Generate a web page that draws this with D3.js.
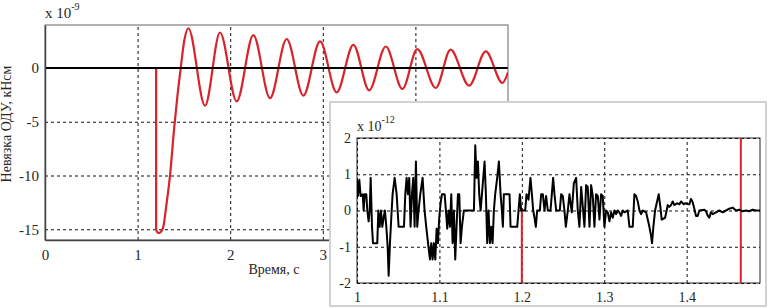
<!DOCTYPE html>
<html>
<head>
<meta charset="utf-8">
<script src="https://cdn.jsdelivr.net/npm/d3@7.9.0/dist/d3.min.js"></script>
<style>
  body { margin: 0; background: #fff; }
  svg { display: block; }
  text { font-family: "Liberation Serif", "DejaVu Serif", serif; }
  .lbl { fill: #262626; }
</style>
</head>
<body>
<svg id="chart" width="777" height="308"></svg>
<script>
// red residual, x10^-9 (time in s)
const redT = [1.2, 1.2, 1.215, 1.235, 1.255, 1.277, 1.31, 1.35, 1.396, 1.43, 1.4657, 1.505, 1.548,
  1.728, 1.89, 2.07, 2.25, 2.43, 2.61, 2.79, 2.97, 3.15, 3.33, 3.50, 3.68, 3.86, 4.02, 4.22, 4.38, 4.58, 4.76, 4.94, 5.0];
const redV = [0, -15.05, -15.3, -15.35, -15.2, -14.8, -12.8, -10, -5.5, -2.6, 0, 2.6, 3.7,
  -3.5, 3.3, -3.1, 3.05, -2.8, 2.7, -2.57, 2.47, -2.26, 2.16, -2.08, 2.0, -1.95, 1.76, -1.86, 1.7, -1.64, 1.54, -1.39, -0.4];

// black residual, x10^-12
const blackT = [0, 1.0, 1.0012, 1.0028, 1.0044, 1.0069, 1.0081, 1.0093, 1.0113, 1.0125, 1.0141, 1.0154, 1.0166, 1.0182, 1.0194, 1.0246,
  1.0259, 1.0275, 1.0291, 1.0307, 1.0323, 1.0339, 1.0356, 1.0372, 1.0384, 1.04, 1.0416, 1.0432, 1.0457, 1.0481, 1.0505, 1.057,
  1.0586, 1.0602, 1.0618, 1.0634, 1.065, 1.0667, 1.0683, 1.0699, 1.0715, 1.0731, 1.0747, 1.0768, 1.0796, 1.082,
  1.084, 1.0862, 1.0885, 1.0901, 1.0917, 1.0933, 1.095, 1.0966, 1.0982, 1.0998, 1.1014, 1.1031, 1.1063, 1.1079, 1.1095,
  1.1111, 1.1128, 1.1144, 1.116, 1.1176, 1.1192, 1.1208, 1.1225, 1.1241, 1.1257, 1.1273, 1.1297, 1.1419, 1.1435, 1.1451,
  1.1467, 1.1483, 1.15, 1.1516, 1.1532, 1.1548, 1.1564, 1.158, 1.1596, 1.1613, 1.1629, 1.1645, 1.1661, 1.1677, 1.1701,
  1.1722, 1.1742, 1.1758, 1.177, 1.1782, 1.1851, 1.1863, 1.1944, 1.196, 1.1976, 1.1992, 1.2041, 1.2057, 1.2081, 1.2105,
  1.2122, 1.2138, 1.2154, 1.217, 1.2186, 1.2219, 1.2235, 1.2255, 1.2275, 1.2295, 1.2315, 1.2348, 1.2364, 1.238, 1.2396,
  1.2417, 1.2461, 1.2477, 1.2497, 1.2517, 1.2534, 1.2558, 1.2578, 1.2606, 1.2631, 1.2659, 1.2679, 1.2699, 1.272, 1.274,
  1.276, 1.278, 1.28, 1.2821, 1.2841, 1.2861, 1.2881, 1.2901, 1.2922, 1.2942, 1.2962, 1.2982, 1.3002, 1.3023, 1.3043,
  1.3063, 1.3083, 1.3103, 1.3124, 1.3144, 1.3164, 1.3184, 1.3204, 1.3225, 1.3245, 1.3285, 1.3306, 1.3346, 1.3366, 1.3386,
  1.3407, 1.3427, 1.3447, 1.3467, 1.3508, 1.3528, 1.3548, 1.3568, 1.358, 1.3596, 1.3617, 1.3641, 1.3661, 1.3681, 1.3697,
  1.3738, 1.3758, 1.377, 1.379, 1.381, 1.3831, 1.3851, 1.3883, 1.3912, 1.3932, 1.3964, 1.398, 1.4013, 1.4033, 1.4053,
  1.4073, 1.4093, 1.4114, 1.4134, 1.4154, 1.4215, 1.4235, 1.4255, 1.4275, 1.4295, 1.4316, 1.4356, 1.4396, 1.4437, 1.4477,
  1.4518, 1.4558, 1.4598, 1.4639, 1.4679, 1.4719, 1.476, 1.48, 1.4841, 1.489, 5.0];
const blackV = [0, 0.85, 0.4, 0.85, 0.4, 0.45, 0.0, 0.45, 0.45, 0.0, -0.3, 0.0, 0.9, -0.45, -0.9, -0.9,
  0.0, -0.45, 0.0, -0.45, -0.2, 0.0, -0.45, -1.0, -1.8, -0.9, -0.2, 0.45, 0.9, 0.45, -0.45, -0.45,
  0.45, 0.9, 0.45, 0.9, -0.45, 0.45, 0.9, -0.45, 1.35, -0.45, 0.0, 0.45, 0.9, 0.0,
  -0.45, -0.9, -1.35, -0.9, -1.35, -0.9, -1.35, -0.5, -0.9, -0.2, 0.2, 0.45, 0.45, 0.0, -0.5,
  0.0, -0.45, 0.45, -0.9, 0.0, -1.35, -0.45, 0.45, 0.45, -0.9, -0.45, 0.0, 0.0, 1.8, 0.9,
  1.35, 0.45, 0.0, 0.45, 0.9, 1.35, 0.45, -0.9, 0.0, -0.9, -0.45, -0.9, 0.0, 0.45, 0.9,
  1.35, 0.45, 0.0, -0.45, 0.45, 0.45, -0.45, -0.45, 0.0, 0.45, 0.0, 0.0, 0.45, 0.3, 0.9,
  0.45, 0.0, -0.2, -0.45, 0.0, 0.0, 0.45, 0.45, 0.0, 0.4, 0.0, 0.0, 0.45, 0.9, 0.45,
  0.0, 0.0, 0.45, 0.4, 0.0, -0.45, 0.0, 0.45, -0.05, 0.75, 0.9, 0.0, -0.45, 0.65, 0.1,
  -0.45, 0.7, 0.65, -0.45, 0.7, 0.4, -0.45, 0.45, 0.4, -0.25, 0.45, 0.4, -0.45, 0.0, -0.05,
  -0.3, -0.05, -0.2, 0.0, -0.1, 0.0, -0.05, -0.15, 0.0, -0.05, 0.0, -0.45, -0.45, 0.45, 0.4,
  0.25, 0.0, -0.1, 0.0, -0.05, -0.25, -0.45, -0.7, -0.9, -0.45, 0.0, 0.25, 0.45, 0.1, -0.25,
  -0.2, 0.0, 0.15, 0.1, 0.15, 0.25, 0.15, 0.2, 0.17, 0.25, 0.17, 0.2, 0.18, 0.17, 0.32,
  0.23, 0.05, -0.15, -0.15, 0.0, 0.02, -0.02, -0.14, -0.2, -0.05, -0.1, -0.05, 0.0, -0.05, 0.0,
  0.05, 0.08, 0.0, 0.02, -0.02, 0.0, -0.02, 0.02, 0.0, 0.0, 0.0];

const mainXTicks = [0, 1, 2, 3, 4, 5];
const mainYTicks = [0, -5, -10, -15];
const mainXGrid = [1, 2, 3, 4];
const mainYGrid = [-5, -10, -15];
const insetXTicks = [1, 1.1, 1.2, 1.3, 1.4];
const insetYTicks = [-2, -1, 0, 1, 2];

const RED = "#d8232a";
const svg = d3.select("#chart");

const redPts = redT.map((t, i) => [t, redV[i]]);
const blackPts = blackT.map((t, i) => [t, blackV[i]]);

function drawRed(g, x, y, w) {
  // vertical drop is straight, the rest is a smooth curve
  g.append("path")
    .attr("d", d3.line().x(d => x(d[0])).y(d => y(d[1]))(redPts.slice(0, 2)))
    .attr("fill", "none").attr("stroke", RED).attr("stroke-width", w);
  g.append("path")
    .attr("d", d3.line().x(d => x(d[0])).y(d => y(d[1])).curve(d3.curveMonotoneX)(redPts.slice(1)))
    .attr("fill", "none").attr("stroke", RED).attr("stroke-width", w)
    .attr("stroke-linejoin", "round");
}

function grid(g, x, y, W, H, xs, ys) {
  g.append("g").attr("transform", `translate(0,${H})`)
    .call(d3.axisBottom(x).tickValues(xs).tickSize(-H).tickFormat(""))
    .call(a => a.select(".domain").remove())
    .selectAll("line").attr("stroke", "#111").attr("stroke-dasharray", "3,3");
  g.append("g")
    .call(d3.axisLeft(y).tickValues(ys).tickSize(-W).tickFormat(""))
    .call(a => a.select(".domain").remove())
    .selectAll("line").attr("stroke", "#111").attr("stroke-dasharray", "3,3");
}

function labels(sel, size) {
  sel.attr("font-family", null).attr("font-size", null);
  sel.selectAll("text").attr("class", "lbl").attr("font-size", size);
}

// ---------- main chart ----------
const m = { left: 45, top: 25, width: 463, height: 215 };
const x = d3.scaleLinear().domain([0, 5]).range([0, m.width]);
const y = d3.scaleLinear().domain([-16, 4]).range([m.height, 0]);
const g = svg.append("g").attr("transform", `translate(${m.left},${m.top})`);

svg.append("clipPath").attr("id", "clipMain")
  .append("rect").attr("width", m.width).attr("height", m.height);

grid(g, x, y, m.width, m.height, mainXGrid, mainYGrid);

const plot = g.append("g").attr("clip-path", "url(#clipMain)");
drawRed(plot, x, y, 2.2);
// black residual is ~1e-12, shows as a flat line at this scale
plot.append("path")
  .attr("d", d3.line().x(d => x(d[0])).y(d => y(d[1] * 1e-3))(blackPts))
  .attr("fill", "none").attr("stroke", "#000").attr("stroke-width", 2);

// frame
g.append("rect").attr("width", m.width).attr("height", m.height)
  .attr("fill", "none").attr("stroke", "#666").attr("stroke-width", 1);

g.append("g").attr("transform", `translate(0,${m.height})`)
  .call(d3.axisBottom(x).tickValues(mainXTicks).tickSize(0).tickPadding(9).tickFormat(d => String(d)))
  .call(a => a.select(".domain").attr("stroke", "#444").attr("stroke-width", 1.5))
  .call(a => labels(a, 15));
g.append("g")
  .call(d3.axisLeft(y).tickValues(mainYTicks).tickSize(0).tickPadding(6).tickFormat(d => String(d)))
  .call(a => a.select(".domain").attr("stroke", "#444").attr("stroke-width", 1.5))
  .call(a => labels(a, 15));

const mexp = svg.append("text").attr("class", "lbl").attr("x", m.left).attr("y", 18).attr("font-size", 15);
mexp.append("tspan").text("x 10");
mexp.append("tspan").attr("dy", -8).attr("font-size", 10).text("-9");

svg.append("text").attr("class", "lbl").attr("x", 274).attr("y", 274)
  .attr("text-anchor", "middle").attr("font-size", 14).text("Время, с");
svg.append("text").attr("class", "lbl")
  .attr("transform", "translate(11,124) rotate(-90)")
  .attr("text-anchor", "middle").attr("font-size", 14).text("Невязка ОДУ, кНсм");

// ---------- inset ----------
const box = { x: 330, y: 102, w: 436, h: 204 };
svg.append("rect").attr("x", box.x).attr("y", box.y).attr("width", box.w).attr("height", box.h)
  .attr("fill", "#fff").attr("stroke", "#cfd3d6").attr("stroke-width", 2);

const n = { left: 357, top: 138, width: 403, height: 145 };
const xi = d3.scaleLinear().domain([1, 1.489]).range([0, n.width]);
const yi = d3.scaleLinear().domain([-2, 2]).range([n.height, 0]);
const gi = svg.append("g").attr("transform", `translate(${n.left},${n.top})`);

svg.append("clipPath").attr("id", "clipInset")
  .append("rect").attr("width", n.width).attr("height", n.height);

gi.append("rect").attr("width", n.width).attr("height", n.height)
  .attr("fill", "none").attr("stroke", "#222").attr("stroke-width", 1);
grid(gi, xi, yi, n.width, n.height, insetXTicks, insetYTicks);

const plotI = gi.append("g").attr("clip-path", "url(#clipInset)");
// red series in 1e-12 units
const yiRed = v => yi(v * 1000);
drawRed(plotI, xi, yiRed, 2);
plotI.append("path")
  .attr("d", d3.line().x(d => xi(d[0])).y(d => yi(d[1]))(blackPts))
  .attr("fill", "none").attr("stroke", "#000").attr("stroke-width", 2)
  .attr("stroke-linejoin", "round");

gi.append("g").attr("transform", `translate(0,${n.height})`)
  .call(d3.axisBottom(xi).tickValues(insetXTicks).tickSize(0).tickPadding(9).tickFormat(d => String(d)))
  .call(a => a.select(".domain").remove())
  .call(a => labels(a, 14));
gi.append("g")
  .call(d3.axisLeft(yi).tickValues(insetYTicks).tickSize(0).tickPadding(6).tickFormat(d => String(d)))
  .call(a => a.select(".domain").remove())
  .call(a => labels(a, 14));

const iexp = svg.append("text").attr("class", "lbl").attr("x", n.left).attr("y", 131).attr("font-size", 14);
iexp.append("tspan").text("x 10");
iexp.append("tspan").attr("dy", -8).attr("font-size", 10).text("-12");
</script>
</body>
</html>
